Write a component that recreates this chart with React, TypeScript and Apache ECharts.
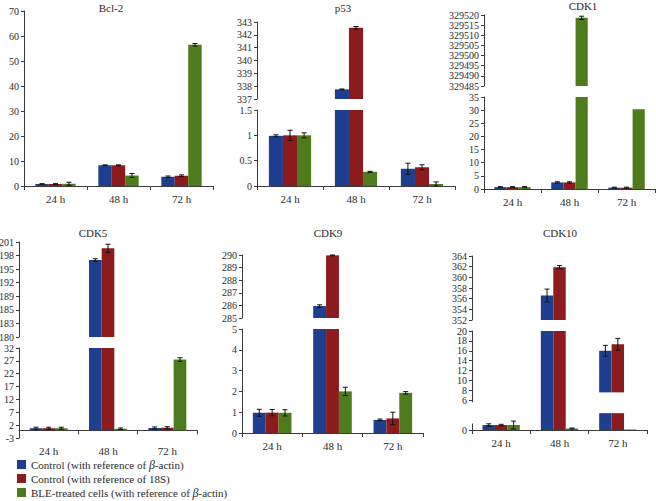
import React, { useEffect, useRef } from 'react';
import * as echarts from 'echarts';

// ---------------- data ----------------
const categories = ['24 h', '48 h', '72 h'];
const seriesNames = [
  'Control (with reference of β-actin)',
  'Control (with reference of 18S)',
  'BLE-treated cells (with reference of β-actin)',
];
const colors = ['#1d3f8e', '#8c1b1e', '#4e7c1d'];

// each array: [β-actin control], [18S control], [BLE-treated] per category (24 h, 48 h, 72 h)
const bcl2Values = [[0.8, 8.3, 3.7], [0.8, 8.3, 4.1], [0.9, 4.2, 56.5]];
const bcl2Errors = [[0.15, 0.15, 0.3], [0.15, 0.15, 0.35], [0.6, 0.8, 0.5]];

const p53Values = [[0.99, 337.75, 0.34], [1.0, 342.55, 0.37], [1.0, 0.28, 0.04]];
const p53Errors = [[0.02, 0.03, 0.11], [0.1, 0.1, 0.05], [0.05, 0.01, 0.04]];

const cdk1Values = [[0.7, 2.5, 0.5], [0.7, 2.5, 0.5], [0.7, 329518.6, 30.3]];
const cdk1Errors = [[0.2, 0.25, 0.2], [0.2, 0.25, 0.2], [0.2, 0.8, 0]];

const cdk5Values = [[0.8, 197.0, 0.9], [0.8, 199.6, 1.0], [0.8, 0.6, 27.5]];
const cdk5Errors = [[0.4, 0.3, 0.4], [0.4, 0.9, 0.4], [0.4, 0.3, 0.7]];

const cdk9Values = [[0.97, 285.95, 0.63], [0.98, 289.97, 0.7], [0.97, 2.0, 1.93]];
const cdk9Errors = [[0.17, 0.1, 0.04], [0.15, 0.03, 0.3], [0.15, 0.2, 0.06]];

const cdk10Values = [[1.0, 356.6, 16.0], [1.0, 361.9, 17.3], [1.0, 0.3, 0.1]];
const cdk10Errors = [[0.25, 1.2, 1.1], [0.15, 0.3, 1.2], [0.8, 0.1, 0]];
const cdk10BarBreak = [3.4, 7.6];
const cdk10AxisBreak = [1.3, 5.6];

// tick values / labels
const bcl2Ticks = [0, 10, 20, 30, 40, 50, 60, 70];
const p53UpperTicks = [337, 338, 339, 340, 341, 342, 343];
const p53LowerTicks = [0, 0.5, 1, 1.5];
const cdk1UpperTicks = [329485, 329490, 329495, 329500, 329505, 329510, 329515, 329520];
const cdk1LowerTicks = [0, 5, 10, 15, 20, 25, 30, 35];
const cdk5UpperTicks = [180, 183, 186, 189, 192, 195, 198, 201];
const cdk5UpperLabels = ['180', '183', '185', '189', '192', '195', '198', '201'];
const cdk5LowerTicks = [-3, 2, 7, 12, 17, 22, 27, 32];
const cdk9UpperTicks = [285, 286, 287, 288, 289, 290];
const cdk9LowerTicks = [0, 1, 2, 3, 4, 5];
const cdk10UpperTicks = [352, 354, 356, 358, 360, 362, 364];
const cdk10LowerTicks = [0, 6, 8, 10, 12, 14, 16, 18, 20];

// ---------------- layout / styling ----------------
const FONT = '"Liberation Serif", "DejaVu Serif", serif';
const AXIS_COLOR = '#3a3a3a';
const TEXT_COLOR = '#2a2a2a';
const BAR_SHARE = 0.64;

type Seg = { top: number; height: number; min: number; max: number; ticks: number[]; labels?: string[] };
type Panel = {
  title: string; titleX: number; titleY: number;
  left: number; width: number;
  values: number[][]; errors: number[][];
  lower: Seg; upper?: Seg;
  barBreak?: number[]; axisBreak?: number[];
};

const panels: Panel[] = [
  { title: 'Bcl-2', titleX: 111, titleY: 8, left: 24, width: 189, values: bcl2Values, errors: bcl2Errors,
    lower: { top: 11, height: 175, min: 0, max: 70, ticks: bcl2Ticks } },
  { title: 'p53', titleX: 343, titleY: 8, left: 257, width: 198, values: p53Values, errors: p53Errors,
    upper: { top: 22, height: 77, min: 337, max: 343, ticks: p53UpperTicks },
    lower: { top: 110, height: 76, min: 0, max: 1.5, ticks: p53LowerTicks } },
  { title: 'CDK1', titleX: 583, titleY: 6, left: 484, width: 171, values: cdk1Values, errors: cdk1Errors,
    upper: { top: 15, height: 71, min: 329485, max: 329520, ticks: cdk1UpperTicks },
    lower: { top: 97, height: 92, min: 0, max: 35, ticks: cdk1LowerTicks } },
  { title: 'CDK5', titleX: 93, titleY: 233, left: 19, width: 178, values: cdk5Values, errors: cdk5Errors,
    upper: { top: 242, height: 95, min: 180, max: 201, ticks: cdk5UpperTicks, labels: cdk5UpperLabels },
    lower: { top: 348, height: 90, min: -3, max: 32, ticks: cdk5LowerTicks } },
  { title: 'CDK9', titleX: 328, titleY: 233, left: 242, width: 181, values: cdk9Values, errors: cdk9Errors,
    upper: { top: 255, height: 63, min: 285, max: 290, ticks: cdk9UpperTicks },
    lower: { top: 329, height: 104, min: 0, max: 5, ticks: cdk9LowerTicks } },
  { title: 'CDK10', titleX: 560, titleY: 233, left: 472, width: 175, values: cdk10Values, errors: cdk10Errors,
    upper: { top: 256, height: 64, min: 352, max: 364, ticks: cdk10UpperTicks },
    lower: { top: 331, height: 99, min: 0, max: 20, ticks: cdk10LowerTicks },
    barBreak: cdk10BarBreak, axisBreak: cdk10AxisBreak },
];

function buildOption() {
  const grid: any[] = [];
  const xAxis: any[] = [];
  const yAxis: any[] = [];
  const series: any[] = [];
  const graphic: any[] = [];

  panels.forEach((p) => {
    graphic.push({
      type: 'text', x: p.titleX, y: p.titleY,
      style: { text: p.title, fill: TEXT_COLOR, font: `11px ${FONT}`, textAlign: 'center', textVerticalAlign: 'middle' },
    });
    const segs: { seg: Seg; isUpper: boolean }[] = [{ seg: p.lower, isUpper: false }];
    if (p.upper) segs.push({ seg: p.upper, isUpper: true });

    segs.forEach(({ seg, isUpper }) => {
      const gi = grid.length;
      grid.push({ left: p.left, top: seg.top, width: p.width, height: seg.height, outerBoundsMode: 'none', containLabel: false });
      xAxis.push({
        gridIndex: gi, type: 'category', data: categories, show: !isUpper,
        axisLine: { show: true, onZero: true, lineStyle: { color: AXIS_COLOR, width: 1 } },
        axisTick: { show: true, length: 4, lineStyle: { color: AXIS_COLOR } },
        axisLabel: { fontFamily: FONT, fontSize: 11, color: TEXT_COLOR, margin: 7 },
        splitLine: { show: false },
      });
      yAxis.push({
        gridIndex: gi, type: 'value', min: seg.min, max: seg.max,
        axisLine: { show: true, lineStyle: { color: AXIS_COLOR, width: 1 } },
        axisTick: { show: true, length: 3, customValues: seg.ticks, lineStyle: { color: AXIS_COLOR } },
        axisLabel: {
          customValues: seg.ticks, fontFamily: FONT, fontSize: 10, color: TEXT_COLOR, margin: 5,
          formatter: (v: number) => (seg.labels ? seg.labels[seg.ticks.indexOf(v)] ?? String(v) : String(v)),
        },
        splitLine: { show: false },
      });

      const inSeg = (v: number) => (isUpper ? v > seg.min : true);
      p.values.forEach((vals, s) => {
        series.push({
          type: 'bar', name: seriesNames[s], xAxisIndex: gi, yAxisIndex: gi,
          data: vals.map((v) => (inSeg(v) ? Math.min(v, seg.max) : '-')),
          itemStyle: { color: colors[s] },
          barGap: '0%', barCategoryGap: `${Math.round((1 - BAR_SHARE) * 100)}%`,
          clip: true,
        });
      });

      const errData: number[][] = [];
      p.values.forEach((vals, s) => {
        vals.forEach((v, c) => {
          const inRange = isUpper ? v > seg.min : v <= seg.max;
          if (inRange && p.errors[s][c] > 0) errData.push([c, s, v, p.errors[s][c]]);
        });
      });
      const segMin = seg.min;
      series.push({
        type: 'custom', xAxisIndex: gi, yAxisIndex: gi, z: 5, silent: true,
        encode: { x: 0, y: 2 },
        data: errData,
        renderItem: (_params: any, api: any) => {
          const c = api.value(0), s = api.value(1), v = api.value(2), e = api.value(3);
          const band = api.size([1, 0])[0];
          const bw = (band * BAR_SHARE) / 3;
          const cx = api.coord([c, v])[0] + (s - 1) * bw;
          const yT = api.coord([c, v + e])[1];
          const yB = api.coord([c, Math.max(v - e, segMin)])[1];
          const cap = 2.5;
          const st = { stroke: '#111', lineWidth: 1 };
          return {
            type: 'group',
            children: [
              { type: 'line', shape: { x1: cx, y1: yT, x2: cx, y2: yB }, style: st },
              { type: 'line', shape: { x1: cx - cap, y1: yT, x2: cx + cap, y2: yT }, style: st },
              { type: 'line', shape: { x1: cx - cap, y1: yB, x2: cx + cap, y2: yB }, style: st },
            ],
          };
        },
      });

      if (!isUpper && (p.barBreak || p.axisBreak)) {
        const maskData: number[][] = [];
        if (p.barBreak) maskData.push([2, p.barBreak[0], p.barBreak[1], 0]);
        if (p.axisBreak) maskData.push([0, p.axisBreak[0], p.axisBreak[1], 1]);
        series.push({
          type: 'custom', xAxisIndex: gi, yAxisIndex: gi, z: 6, silent: true,
          encode: { x: 0, y: 1 },
          data: maskData,
          renderItem: (_params: any, api: any) => {
            const c = api.value(0), a = api.value(1), b = api.value(2), kind = api.value(3);
            const band = api.size([1, 0])[0];
            const bw = (band * BAR_SHARE) / 3;
            const center = api.coord([c, a])[0];
            const y1 = api.coord([c, b])[1];
            const y2 = api.coord([c, a])[1];
            const x0 = kind === 0 ? center - 1.5 * bw - 1 : center - band / 2 - 2;
            const w = kind === 0 ? 2 * bw + 2 : 4;
            return { type: 'rect', shape: { x: x0, y: y1, width: w, height: y2 - y1 }, style: { fill: '#ffffff' } };
          },
        });
      }
    });
  });

  return {
    animation: false,
    backgroundColor: '#ffffff',
    textStyle: { fontFamily: FONT },
    grid, xAxis, yAxis, series, graphic,
    legend: {
      data: seriesNames,
      orient: 'vertical', left: 17, top: 458, padding: 0,
      itemWidth: 9, itemHeight: 9, itemGap: 1,
      icon: 'rect', selectedMode: false,
      textStyle: {
        fontFamily: FONT, fontSize: 11, color: TEXT_COLOR, lineHeight: 13,
        rich: { i: { fontFamily: FONT, fontSize: 12, lineHeight: 13, fontStyle: 'italic', color: TEXT_COLOR } },
      },
      formatter: (name: string) => name.replace('β', '{i|β}'),
    },
  };
}

export default function App() {
  const ref = useRef<HTMLDivElement>(null);
  useEffect(() => {
    if (!ref.current) return;
    const chart = echarts.init(ref.current, null, { renderer: 'svg' });
    chart.setOption(buildOption() as any);
    return () => chart.dispose();
  }, []);
  return <div ref={ref} style={{ position: 'fixed', left: 0, top: 0, width: 656, height: 501 }} />;
}
